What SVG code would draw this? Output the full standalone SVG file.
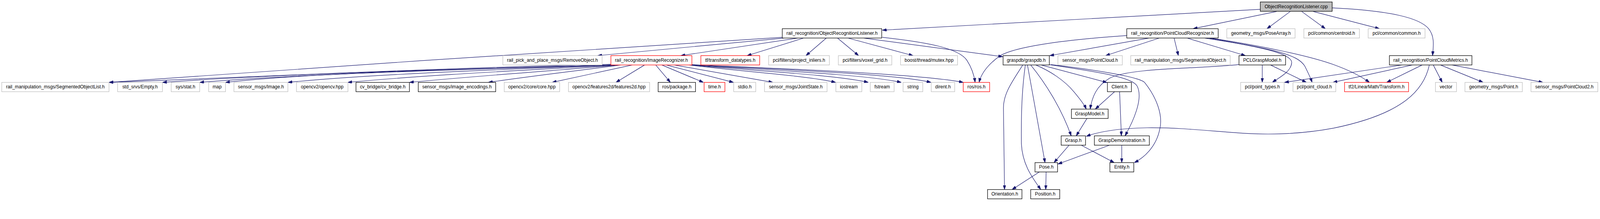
<svg xmlns="http://www.w3.org/2000/svg" width="4463" height="560" viewBox="0 0 4463 560">
<style>
svg{width:100vw;height:12.5476vw;overflow:hidden}
rect{stroke-width:1.4}
.ext{fill:#fff;stroke:#bfbfbf}
.doc{fill:#fff;stroke:#000}
.red{fill:#fff;stroke:#ff0000}
.root{fill:#bfbfbf;stroke:#000}
text{font-family:"Liberation Sans",Arial,Helvetica,sans-serif;font-size:13px;fill:#000;text-anchor:middle}
#edges path{fill:none;stroke:#191970;stroke-width:1.3;marker-end:url(#ah)}
</style>
<defs>
<marker id="ah" viewBox="0 0 12 8" refX="12" refY="4" markerWidth="12" markerHeight="8" markerUnits="userSpaceOnUse" orient="auto">
<path d="M0,0 L12,4 L0,8 z" fill="#191970" stroke="#191970" stroke-width="1"/>
</marker>
</defs>
<rect width="4463" height="560" fill="#fff"/>
<g id="edges">
<path d="M3515,26 L2461,84"/>
<path d="M3561,32 L3328,80"/>
<path d="M3599,32 L3534,80"/>
<path d="M3631,32 L3697,80"/>
<path d="M3663,32 L3848,80"/>
<path d="M3716,22 C3880,30 3960,50 3985,80 C4003,102 3998,130 3996,155"/>
<path d="M2182,104 C1800,127 800,193 304,229.5"/>
<path d="M2188,106 L1667,155"/>
<path d="M2226,106 L1899,155"/>
<path d="M2242,106 L2084,155"/>
<path d="M2305,106 L2248,155"/>
<path d="M2336,106 L2395,155"/>
<path d="M2365,106 L2547,155"/>
<path d="M2409,106 L2797,158"/>
<path d="M2461,104 C2590,118 2675,135 2697,168 C2710,188 2717,208 2720,229.5"/>
<path d="M3143,99 C2950,112 2830,132 2790,155 C2755,180 2737,205 2731,229.5"/>
<path d="M3205,106 L2928,155"/>
<path d="M3234,106 L3084,155"/>
<path d="M3275,106 L3287,155"/>
<path d="M3311,106 L3474,155"/>
<path d="M3360,106 C3520,130 3605,150 3603,175 C3601,200 3570,215 3549,229.5"/>
<path d="M3372,106 C3550,138 3620,150 3640,185 C3650,205 3655,215 3660,229.5"/>
<path d="M3377,106 C3520,128 3650,155 3720,180 C3770,198 3800,215 3820,229.5"/>
<path d="M3455,180 C3350,192 3150,188 3095,218 C3058,240 3046,270 3041,304"/>
<path d="M3521,181 L3521,229.5"/>
<path d="M3544,181 L3644,229.5"/>
<path d="M3911,181 L3583,229.5"/>
<path d="M3940,181 L3718,229.5"/>
<path d="M3967,181 L3868,229.5"/>
<path d="M3998,181 L4023,229.5"/>
<path d="M4018,181 L4137,229.5"/>
<path d="M4050,181 L4304,229.5"/>
<path d="M3987,181 C3970,260 3900,320 3720,357 C3640,372 3560,376 3480,372 C3380,366 3300,355 3200,356 C3120,357 3060,368 3030,380"/>
<path d="M2853,181 C2825,225 2799,260 2799,300 L2802,528"/>
<path d="M2860,181 C2852,240 2848,300 2849,400 C2852,460 2880,495 2903,528"/>
<path d="M2866,181 L2915,453"/>
<path d="M2875,181 C2915,230 2960,300 2988,378.5"/>
<path d="M2889,181 C2930,198 2970,225 2995,255 C3012,275 3024,290 3030,304"/>
<path d="M2904,181 L3088,230"/>
<path d="M2927,180 C3060,200 3160,215 3172,240 C3190,275 3160,340 3138,378.5"/>
<path d="M2931,180 C3060,195 3180,215 3193,230 C3225,270 3245,320 3235,360 C3225,410 3190,440 3164,453"/>
<path d="M3109,255.5 L3055,304"/>
<path d="M3123,255.5 L3128,378.5"/>
<path d="M3032,330 L3002,378.5"/>
<path d="M2982,404.5 L2940,453"/>
<path d="M3016,404.5 L3108,453"/>
<path d="M3095,404.5 L2951,457"/>
<path d="M3129,404.5 L3129,453"/>
<path d="M2899,479 L2823,528"/>
<path d="M2918,479 L2917,528"/>
<path d="M1704,179 C1200,190 700,215 304,229.5"/>
<path d="M1706,181 C1300,192 800,205 453,229.5"/>
<path d="M1710,181 C1350,192 850,205 557,229.5"/>
<path d="M1714,181 C1400,190 900,200 629,229.5"/>
<path d="M1718,181 C1450,192 1050,205 803,229.5"/>
<path d="M1722,181 C1500,194 1200,208 970,229.5"/>
<path d="M1726,181 C1560,196 1350,210 1142,229.5"/>
<path d="M1732,181 C1620,196 1480,212 1362,229.5"/>
<path d="M1764,181 L1540,229.5"/>
<path d="M1798,181 L1718,229.5"/>
<path d="M1829,181 L1870,229.5"/>
<path d="M1846,181 L1962,229.5"/>
<path d="M1858,181 L2046,229.5"/>
<path d="M1880,181 L2156,229.5"/>
<path d="M1922,181 C2050,198 2250,210 2331,229.5"/>
<path d="M1924,181 C2080,196 2330,208 2422,229.5"/>
<path d="M1926,181 C2100,194 2400,205 2514,229.5"/>
<path d="M1928,181 C2120,192 2480,203 2597,229.5"/>
<path d="M1930,180 C2150,190 2560,205 2687,229.5"/>
</g>
<g id="n_cpp"><rect class="root" x="3515.5" y="5.5" width="200.5" height="26"/><text x="3615.75" y="22.5">ObjectRecognitionListener.cpp</text></g>
<g id="n_orlh"><rect class="doc" x="2182" y="80" width="277.5" height="26"/><text x="2320.75" y="97">rail_recognition/ObjectRecognitionListener.h</text></g>
<g id="n_pcr"><rect class="doc" x="3143" y="80" width="255" height="26"/><text x="3270.5" y="97">rail_recognition/PointCloudRecognizer.h</text></g>
<g id="n_posearray"><rect class="ext" x="3422" y="80" width="190.5" height="26"/><text x="3517.25" y="97">geometry_msgs/PoseArray.h</text></g>
<g id="n_centroid"><rect class="ext" x="3637" y="80" width="155" height="26"/><text x="3714.5" y="97">pcl/common/centroid.h</text></g>
<g id="n_common"><rect class="ext" x="3816.4" y="80" width="158.6" height="26"/><text x="3895.7" y="97">pcl/common/common.h</text></g>
<g id="n_removeobj"><rect class="ext" x="1402.7" y="155" width="276.8" height="26"/><text x="1541.1" y="172">rail_pick_and_place_msgs/RemoveObject.h</text></g>
<g id="n_imgrec"><rect class="red" x="1704" y="155" width="226" height="26"/><text x="1817" y="172">rail_recognition/ImageRecognizer.h</text></g>
<g id="n_tfdt"><rect class="red" x="1955" y="155" width="164" height="26"/><text x="2037" y="172">tf/transform_datatypes.h</text></g>
<g id="n_projinl"><rect class="ext" x="2144" y="155" width="169.5" height="26"/><text x="2228.75" y="172">pcl/filters/project_inliers.h</text></g>
<g id="n_voxel"><rect class="ext" x="2338.5" y="155" width="149" height="26"/><text x="2413" y="172">pcl/filters/voxel_grid.h</text></g>
<g id="n_mutex"><rect class="ext" x="2512" y="155" width="159" height="26"/><text x="2591.5" y="172">boost/thread/mutex.hpp</text></g>
<g id="n_graspdb"><rect class="doc" x="2798" y="155" width="129" height="26"/><text x="2862.5" y="172">graspdb/graspdb.h</text></g>
<g id="n_pointcloud"><rect class="ext" x="2951" y="155" width="179.6" height="26"/><text x="3040.8" y="172">sensor_msgs/PointCloud.h</text></g>
<g id="n_segobj"><rect class="ext" x="3154" y="155" width="277.6" height="26"/><text x="3292.8" y="172">rail_manipulation_msgs/SegmentedObject.h</text></g>
<g id="n_pclgm"><rect class="doc" x="3456" y="155" width="130" height="26"/><text x="3521" y="172">PCLGraspModel.h</text></g>
<g id="n_pcm"><rect class="doc" x="3875.6" y="155" width="230.2" height="26"/><text x="3990.7" y="172">rail_recognition/PointCloudMetrics.h</text></g>
<g id="n_segobjlist"><rect class="ext" x="4.8" y="229.5" width="299.2" height="26"/><text x="154.4" y="246.5">rail_manipulation_msgs/SegmentedObjectList.h</text></g>
<g id="n_empty"><rect class="ext" x="328" y="229.5" width="125" height="26"/><text x="390.5" y="246.5">std_srvs/Empty.h</text></g>
<g id="n_stat"><rect class="ext" x="477.5" y="229.5" width="79.5" height="26"/><text x="517.25" y="246.5">sys/stat.h</text></g>
<g id="n_map"><rect class="ext" x="582" y="229.5" width="47" height="26"/><text x="605.5" y="246.5">map</text></g>
<g id="n_image"><rect class="ext" x="652.5" y="229.5" width="150.5" height="26"/><text x="727.75" y="246.5">sensor_msgs/Image.h</text></g>
<g id="n_opencv"><rect class="ext" x="827" y="229.5" width="143.5" height="26"/><text x="898.75" y="246.5">opencv2/opencv.hpp</text></g>
<g id="n_cvbridge"><rect class="doc" x="993" y="229.5" width="149" height="26"/><text x="1067.5" y="246.5">cv_bridge/cv_bridge.h</text></g>
<g id="n_imgenc"><rect class="doc" x="1166.6" y="229.5" width="216" height="26"/><text x="1274.6" y="246.5">sensor_msgs/image_encodings.h</text></g>
<g id="n_core"><rect class="ext" x="1406.5" y="229.5" width="154.5" height="26"/><text x="1483.75" y="246.5">opencv2/core/core.hpp</text></g>
<g id="n_feat2d"><rect class="ext" x="1585.7" y="229.5" width="226.3" height="26"/><text x="1698.85" y="246.5">opencv2/features2d/features2d.hpp</text></g>
<g id="n_package"><rect class="doc" x="1835.8" y="229.5" width="104.2" height="26"/><text x="1887.9" y="246.5">ros/package.h</text></g>
<g id="n_time"><rect class="red" x="1964" y="229.5" width="58" height="26"/><text x="1993" y="246.5">time.h</text></g>
<g id="n_stdio"><rect class="ext" x="2046.6" y="229.5" width="61.4" height="26"/><text x="2077.3" y="246.5">stdio.h</text></g>
<g id="n_jointstate"><rect class="ext" x="2132.5" y="229.5" width="174.5" height="26"/><text x="2219.75" y="246.5">sensor_msgs/JointState.h</text></g>
<g id="n_iostream"><rect class="ext" x="2331.5" y="229.5" width="72.5" height="26"/><text x="2367.75" y="246.5">iostream</text></g>
<g id="n_fstream"><rect class="ext" x="2427.5" y="229.5" width="66.5" height="26"/><text x="2460.75" y="246.5">fstream</text></g>
<g id="n_string"><rect class="ext" x="2519" y="229.5" width="55" height="26"/><text x="2546.5" y="246.5">string</text></g>
<g id="n_dirent"><rect class="ext" x="2597.6" y="229.5" width="65.4" height="26"/><text x="2630.3" y="246.5">dirent.h</text></g>
<g id="n_ros"><rect class="red" x="2686.8" y="229.5" width="73.7" height="26"/><text x="2723.65" y="246.5">ros/ros.h</text></g>
<g id="n_client"><rect class="doc" x="3089" y="229.5" width="67" height="26"/><text x="3122.5" y="246.5">Client.h</text></g>
<g id="n_pointtypes"><rect class="ext" x="3460.7" y="229.5" width="121.3" height="26"/><text x="3521.35" y="246.5">pcl/point_types.h</text></g>
<g id="n_pointcloudh"><rect class="ext" x="3606.6" y="229.5" width="119.4" height="26"/><text x="3666.3" y="246.5">pcl/point_cloud.h</text></g>
<g id="n_tf2"><rect class="red" x="3750.5" y="229.5" width="178.5" height="26"/><text x="3839.75" y="246.5">tf2/LinearMath/Transform.h</text></g>
<g id="n_vector"><rect class="ext" x="4004" y="229.5" width="58.7" height="26"/><text x="4033.35" y="246.5">vector</text></g>
<g id="n_point"><rect class="ext" x="4086.4" y="229.5" width="160" height="26"/><text x="4166.4" y="246.5">geometry_msgs/Point.h</text></g>
<g id="n_pc2"><rect class="ext" x="4270.6" y="229.5" width="186.4" height="26"/><text x="4363.8" y="246.5">sensor_msgs/PointCloud2.h</text></g>
<g id="n_graspmodel"><rect class="doc" x="2988.6" y="304" width="102.4" height="26"/><text x="3039.8" y="321">GraspModel.h</text></g>
<g id="n_grasp"><rect class="doc" x="2960" y="378.5" width="68" height="26"/><text x="2994" y="395.5">Grasp.h</text></g>
<g id="n_graspdemo"><rect class="doc" x="3052.6" y="378.5" width="153.4" height="26"/><text x="3129.3" y="395.5">GraspDemonstration.h</text></g>
<g id="n_pose"><rect class="doc" x="2887" y="453" width="63" height="26"/><text x="2918.5" y="470">Pose.h</text></g>
<g id="n_entity"><rect class="doc" x="3096" y="453" width="66.6" height="26"/><text x="3129.3" y="470">Entity.h</text></g>
<g id="n_orient"><rect class="doc" x="2754.7" y="528" width="95.9" height="26"/><text x="2802.65" y="545">Orientation.h</text></g>
<g id="n_position"><rect class="doc" x="2875" y="528" width="81" height="26"/><text x="2915.5" y="545">Position.h</text></g>
</svg>
